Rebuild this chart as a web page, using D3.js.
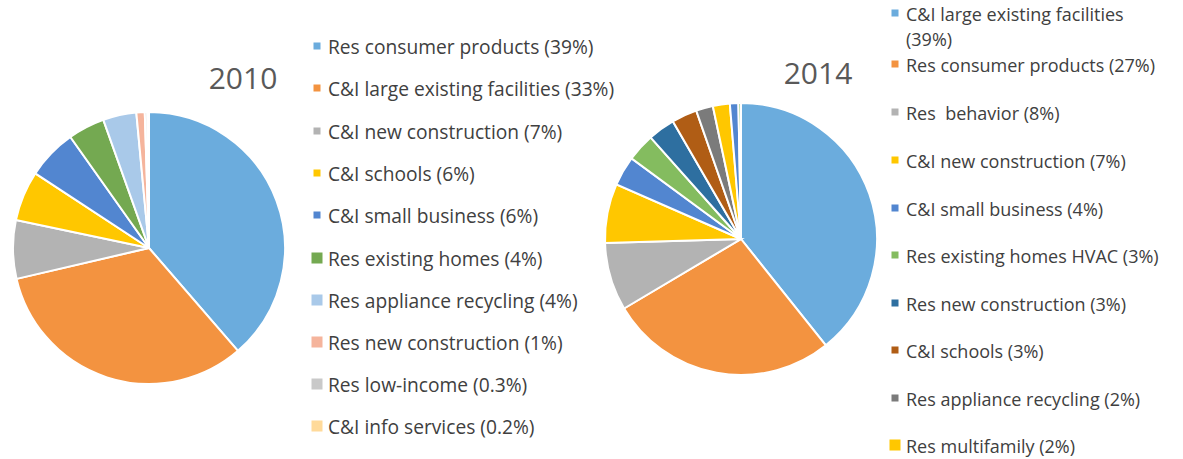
<!DOCTYPE html>
<html>
<head>
<meta charset="utf-8">
<script src="https://cdn.jsdelivr.net/npm/d3@7"></script>
<style>
  body { margin: 0; background: #fff; }
  svg { display: block; font-family: "Open Sans", Lato, sans-serif; }
  text { white-space: pre; }
</style>
</head>
<body>
<svg id="chart"></svg>
<script>
var screen = {width: 1183, height: 459};

// 2010 program shares
var labels2010 = ["Res consumer products (39%)", "C&I large existing facilities (33%)", "C&I new construction (7%)",
    "C&I schools (6%)", "C&I small business (6%)", "Res existing homes (4%)", "Res appliance recycling (4%)",
    "Res new construction (1%)", "Res low-income (0.3%)", "C&I info services (0.2%)"];
var values2010 = [39, 33, 7, 6, 6, 4.4, 4, 1, 0.3, 0.2];
var colors2010 = ["#6BACDD", "#F39340", "#B3B3B3", "#FFC700", "#5286D0", "#74A951", "#A9C9E9", "#F5B49C", "#C9C9C9", "#FFDA9A"];

// 2014 program shares (last two slices have no visible legend entry)
var labels2014 = ["C&I large existing facilities|(39%)", "Res consumer products (27%)", "Res  behavior (8%)",
    "C&I new construction (7%)", "C&I small business (4%)", "Res existing homes HVAC (3%)",
    "Res new construction (3%)", "C&I schools (3%)", "Res appliance recycling (2%)", "Res multifamily (2%)", null, null];
var values2014 = [39, 27, 8, 7, 3.5, 3.3, 3.2, 3, 2, 2, 1, 0.3];
var colors2014 = ["#6BACDD", "#F39340", "#B3B3B3", "#FFC700", "#5286D0", "#84BC5F", "#2E6FA0", "#B05D15", "#7B7B7B", "#FFC700", "#5286D0", "#84BC5F"];

var svg = d3.select("#chart")
    .attr("width", screen.width)
    .attr("height", screen.height)

var drawPie = function(values, colors, cx, cy, r)
{
    var pie = d3.pie().sort(null).value(function(d){ return d })
    var arc = d3.arc().innerRadius(0).outerRadius(r)
    svg.append("g")
        .attr("transform", "translate(" + cx + "," + cy + ")")
        .selectAll("path")
        .data(pie(values))
        .enter()
        .append("path")
        .attr("d", arc)
        .attr("fill", function(d, i){ return colors[i] })
        .attr("stroke", "#fff")
        .attr("stroke-width", 2)
}

var drawLegend = function(labels, colors, x, rowYs, sizes, fontSize, lineGap)
{
    var g = svg.append("g")
    labels.forEach(function(lab, i)
    {
        if (lab == null) return;
        var y = rowYs[i]
        var s = sizes[i]
        g.append("rect")
            .attr("x", x + 4 - s / 2)
            .attr("y", y - 8 - s / 2)
            .attr("width", s)
            .attr("height", s)
            .attr("fill", colors[i])
        var txt = g.append("text")
            .attr("x", x + 15)
            .attr("y", y)
            .attr("fill", "#404040")
            .style("font-size", fontSize + "px")
        lab.split("|").forEach(function(t, j)
        {
            txt.append("tspan")
                .attr("x", x + 15)
                .attr("y", y + j * lineGap)
                .text(t)
        })
    })
}

drawPie(values2010, colors2010, 149, 248, 136)
drawPie(values2014, colors2014, 741, 239, 136)

svg.append("text").attr("x", 243).attr("y", 89).attr("text-anchor", "middle")
    .attr("fill", "#595959").style("font-size", "30px").text("2010")
svg.append("text").attr("x", 818).attr("y", 84).attr("text-anchor", "middle")
    .attr("fill", "#595959").style("font-size", "30px").text("2014")

var rows2010 = [54, 96, 139, 181, 223, 266, 308, 350, 392, 434]
drawLegend(labels2010, colors2010, 313, rows2010, [7, 7, 7, 7, 7, 11, 11, 11, 11, 11], 19.2, 23)

var rows2014 = [21, 72, 120, 168, 216, 263, 311, 358, 406, 453]
drawLegend(labels2014, colors2014, 891, rows2014, [7, 7, 7, 7, 7, 7, 7, 7, 7, 11], 18, 25)
</script>
</body>
</html>
